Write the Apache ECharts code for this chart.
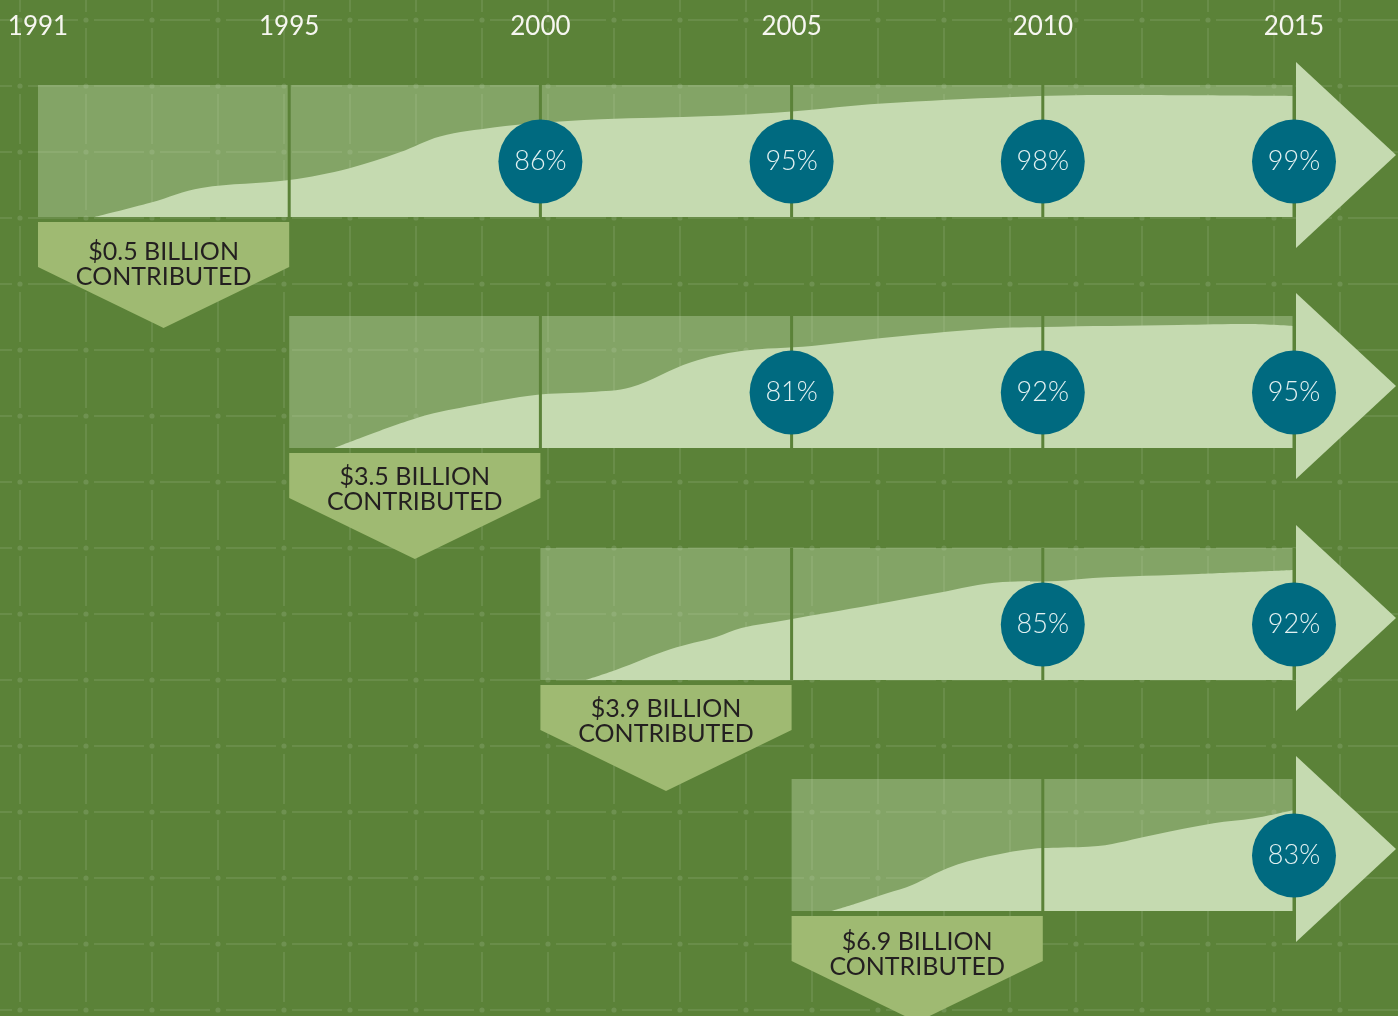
<!DOCTYPE html>
<html>
<head>
<meta charset="utf-8">
<script src="https://cdn.jsdelivr.net/npm/echarts@6/dist/echarts.min.js"></script>
<style>
  html, body { margin: 0; padding: 0; background: #5b8238; }
  #chart { width: 1398px; height: 1016px; }
</style>
</head>
<body>
<div id="chart"></div>
<script>
// axis ticks (equal spacing per segment)
const tickYears = [1991, 1995, 2000, 2005, 2010, 2015]
const rowStartYears = [1991, 1995, 2000, 2005]
const contributedLabels = ['$0.5 BILLION', '$3.5 BILLION', '$3.9 BILLION', '$6.9 BILLION']

// curve share of band height
const curveYears1 = [1991.9, 1992.8, 1993.6, 1995.0, 1996.2, 1997.2, 1998.0, 1999.1, 1999.9, 2001.2, 2003.4, 2005.0, 2006.8, 2009.4, 2011.4, 2015.0]
const curveValues1 = [0, 11, 22, 28, 37, 49, 61, 68, 71, 74, 76.5, 80, 86, 91, 92.4, 91.7]
const curveYears2 = [1995.9, 1997.6, 1998.7, 1999.9, 2001.0, 2001.8, 2003.0, 2004.0, 2005.4, 2006.8, 2008.8, 2010.0, 2012.7, 2014.1, 2015.0]
const curveValues2 = [0, 23.5, 32.6, 40.2, 42.4, 46, 65, 73.5, 77.3, 83.3, 90.2, 91.7, 93.2, 93.9, 92.4]
const curveYears3 = [2000.9, 2001.5, 2002.6, 2003.5, 2004.0, 2004.9, 2006.6, 2007.9, 2009.2, 2010.3, 2011.0, 2013.1, 2015.0]
const curveValues3 = [0, 7.6, 23.5, 32.6, 39.4, 45.5, 56.8, 65.9, 74.2, 75, 77.3, 80.3, 83.3]
const curveYears4 = [2005.8, 2006.3, 2006.9, 2007.4, 2008.1, 2008.9, 2009.9, 2010.3, 2011.1, 2012.2, 2013.4, 2014.2, 2015.0]
const curveValues4 = [0, 5.8, 13.4, 19.7, 32.4, 41.2, 47.5, 48, 49.2, 57.6, 66.4, 70.2, 76.5]

// percentage badges
const badgeYears1 = [2000, 2005, 2010, 2015]
const badgePct1 = [86, 95, 98, 99]
const badgeYears2 = [2005, 2010, 2015]
const badgePct2 = [81, 92, 95]
const badgeYears3 = [2010, 2015]
const badgePct3 = [85, 92]
const badgeYears4 = [2015]
const badgePct4 = [83]

const rows = [
  { years: curveYears1, values: curveValues1, badgeYears: badgeYears1, badges: badgePct1 },
  { years: curveYears2, values: curveValues2, badgeYears: badgeYears2, badges: badgePct2 },
  { years: curveYears3, values: curveValues3, badgeYears: badgeYears3, badges: badgePct3 },
  { years: curveYears4, values: curveValues4, badgeYears: badgeYears4, badges: badgePct4 }
]

const BG = '#5b8238'
const LIGHT = '#c5dab0'
const BAND = 'rgba(197,218,176,0.39)'
const TEAL = '#006a80'
const PENTAGON = '#9fba72'
const ROW_TOP = 85
const ROW_STEP = 231.4
const ROW_HEIGHT = 132
const BADGE_LEVEL = 42
// small vertical nudge of the pentagon text per row
const textShift = [6, 0, 0, 2]

const yearToPos = (year) => {
  for (let i = 0; i < tickYears.length - 1; i++) {
    if (year <= tickYears[i + 1]) {
      return i + (year - tickYears[i]) / (tickYears[i + 1] - tickYears[i])
    }
  }
  return tickYears.length - 1
}
const lastPos = tickYears.length - 1

// faint background grid with dots
const bgElements = []
for (let x = 20; x < 1420; x += 66) {
  bgElements.push({ type: 'line', z: 0, silent: true,
    shape: { x1: x, y1: -38, x2: x, y2: 1030 },
    style: { stroke: 'rgba(255,255,255,0.09)', lineWidth: 2, lineDash: [50, 16] } })
}
for (let y = 20; y < 1030; y += 66) {
  bgElements.push({ type: 'line', z: 0, silent: true,
    shape: { x1: -38, y1: y, x2: 1420, y2: y },
    style: { stroke: 'rgba(255,255,255,0.09)', lineWidth: 2, lineDash: [50, 16] } })
  for (let x = 20; x < 1420; x += 66) {
    bgElements.push({ type: 'circle', z: 0, silent: true,
      shape: { cx: x, cy: y, r: 2.6 }, style: { fill: 'rgba(255,255,255,0.12)' } })
  }
}

const grids = []
const xAxes = []
const yAxes = []
const series = []

rows.forEach((row, r) => {
  grids.push({ left: 38, right: 104, top: Math.round(ROW_TOP + r * ROW_STEP), height: ROW_HEIGHT })
  xAxes.push({
    gridIndex: r, type: 'value', min: 0, max: lastPos, interval: 1,
    show: r === 0, position: 'top', z: 5,
    axisLine: { show: false }, axisTick: { show: false }, splitLine: { show: false },
    axisLabel: {
      show: r === 0, margin: 45, showMinLabel: true, showMaxLabel: true,
      formatter: (v) => tickYears[v], color: '#f6f6f0',
      fontFamily: 'Lato', fontSize: 26, lineHeight: 26
    }
  })
  yAxes.push({ gridIndex: r, type: 'value', min: 0, max: 100, show: false })

  const startPos = yearToPos(rowStartYears[r])

  // band, arrow head and the contribution pentagon
  series.push({
    type: 'custom', xAxisIndex: r, yAxisIndex: r, z: 1, silent: true,
    data: [[startPos]],
    renderItem: (params, api) => {
      const s = api.value(0)
      const tl = api.coord([s, 100])
      const br = api.coord([lastPos, 0])
      const nextX = api.coord([s + 1, 0])[0]
      const midY = (tl[1] + br[1]) / 2
      const penTop = br[1] + 5
      const penMid = (tl[0] + nextX) / 2
      return {
        type: 'group',
        children: [
          { type: 'rect', shape: { x: tl[0], y: tl[1], width: br[0] - tl[0], height: br[1] - tl[1] }, style: { fill: BAND } },
          { type: 'polygon', shape: { points: [[br[0] + 2, tl[1] - 23], [br[0] + 102, midY + 4], [br[0] + 2, br[1] + 31]] }, style: { fill: LIGHT } },
          { type: 'polygon', shape: { points: [[tl[0], penTop], [nextX, penTop], [nextX, penTop + 45], [penMid, penTop + 106], [tl[0], penTop + 45]] }, style: { fill: PENTAGON } },
          { type: 'text', x: penMid, y: penTop + 36 + textShift[r],
            style: { text: contributedLabels[r] + '\nCONTRIBUTED', fill: '#231f20', fontFamily: 'Lato', fontSize: 25,
              lineHeight: 25, align: 'center', verticalAlign: 'middle' } }
        ]
      }
    }
  })

  // light area curve
  series.push({
    type: 'line', xAxisIndex: r, yAxisIndex: r, z: 2, silent: true,
    smooth: 0.35, symbol: 'none',
    lineStyle: { width: 0 },
    areaStyle: { color: LIGHT, opacity: 1 },
    data: row.years.map((y, i) => [yearToPos(y), row.values[i]])
  })

  // year divider lines across the band
  const dividers = []
  for (let p = Math.floor(startPos) + 1; p <= lastPos; p++) dividers.push([p])
  series.push({
    type: 'custom', xAxisIndex: r, yAxisIndex: r, z: 3, silent: true,
    data: dividers,
    renderItem: (params, api) => {
      const a = api.coord([api.value(0), 100])
      const b = api.coord([api.value(0), 0])
      return { type: 'line', shape: { x1: a[0], y1: a[1], x2: b[0], y2: b[1] }, style: { stroke: BG, lineWidth: 3 } }
    }
  })

  // percentage badges
  series.push({
    type: 'scatter', xAxisIndex: r, yAxisIndex: r, z: 4, silent: true,
    symbolSize: 84,
    itemStyle: { color: TEAL, opacity: 1 },
    label: {
      show: true, position: 'inside', formatter: (p) => p.value[2] + '%',
      color: '#e2f1f1', fontFamily: 'Lato', fontWeight: 300, fontSize: 27
    },
    data: row.badgeYears.map((y, i) => [yearToPos(y), BADGE_LEVEL, row.badges[i]])
  })
})

const chart = echarts.init(document.getElementById('chart'))
chart.setOption({
  animation: false,
  backgroundColor: BG,
  graphic: { elements: bgElements },
  grid: grids,
  xAxis: xAxes,
  yAxis: yAxes,
  series: series
})
</script>
</body>
</html>
